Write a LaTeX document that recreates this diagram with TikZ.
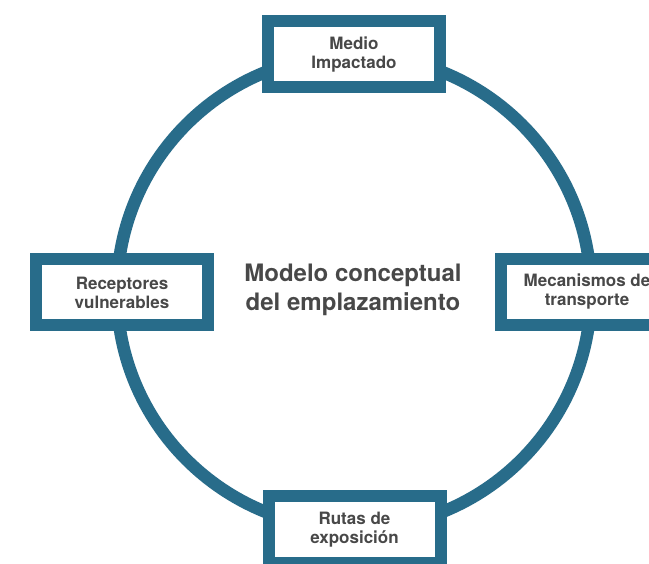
\documentclass[tikz,border=0pt]{standalone}
\usepackage{fontspec}
\setmainfont{TeX Gyre Heros}
\definecolor{ring}{RGB}{40,108,138}
\definecolor{txt}{RGB}{72,72,72}
\begin{document}
\begin{tikzpicture}[x=1pt,y=-1pt,
  box/.style={draw=ring, line width=12pt, fill=white, minimum width=172pt, minimum height=66pt,
    align=center, text=txt, font=\fontsize{17}{19}\selectfont\bfseries, inner sep=0pt}]
\useasboundingbox (0,0) rectangle (649,564);
\fill[white] (0,0) rectangle (649,564);
\node (c) at (354,292) [circle, minimum size=474pt, inner sep=0pt] {};
\draw[ring, line width=12.5pt] (c.center) circle[radius=237pt];
\node[box] (top) at (354,54.5) {Medio\\Impactado};
\node[box] (left) at (122,292.5) {Receptores\\vulnerables};
\node[box] (right) at (587,292) {Mecanismos de\\transporte};
\node[box] (bottom) at (354.5,529.5) {Rutas de\\exposición};
\node[align=center, text=txt, font=\fontsize{24}{29}\selectfont\bfseries] (title) at (353,290) {Modelo conceptual\\del emplazamiento};
\end{tikzpicture}
\end{document}
